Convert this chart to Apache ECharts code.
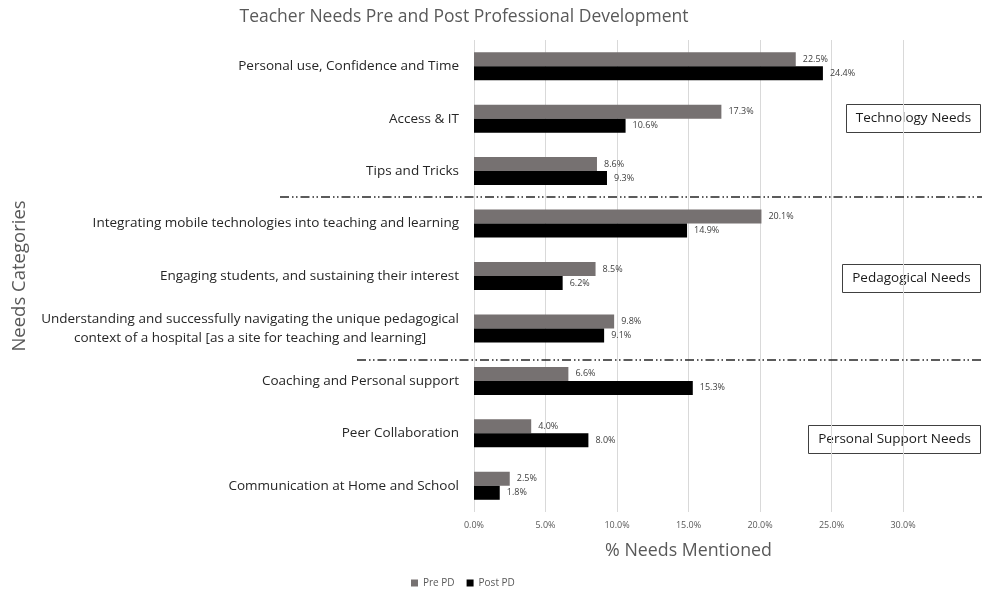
<!DOCTYPE html>
<html>
<head>
<meta charset="utf-8">
<script src="https://cdn.jsdelivr.net/npm/echarts@6/dist/echarts.min.js"></script>
<style>html,body{margin:0;padding:0;background:#fff}#c{width:982px;height:590px}</style>
</head>
<body>
<div id="c"></div>
<script>
const categories = [
  "Personal use, Confidence and Time",
  "Access & IT",
  "Tips and Tricks",
  "Integrating mobile technologies into teaching and learning",
  "Engaging students, and sustaining their interest",
  "Understanding and successfully navigating the unique pedagogical\ncontext of a hospital [as a site for teaching and learning]",
  "Coaching and Personal support",
  "Peer Collaboration",
  "Communication at Home and School"
];
const prePD = [22.5, 17.3, 8.6, 20.1, 8.5, 9.8, 6.6, 4.0, 2.5];
const postPD = [24.4, 10.6, 9.3, 14.9, 6.2, 9.1, 15.3, 8.0, 1.8];
const seriesNames = ["Pre PD", "Post PD"];
const groupNames = ["Technology Needs", "Pedagogical Needs", "Personal Support Needs"];

const FONT = "'Open Sans', sans-serif";
const chart = echarts.init(document.getElementById('c'), null, {renderer: 'canvas'});

function box(text, x, y, w, h) {
  return {
    type: 'group', left: x, top: y,
    children: [
      {type: 'rect', shape: {x: 0, y: 0, width: w, height: h},
       style: {fill: 'transparent', stroke: '#404040', lineWidth: 1}},
      {type: 'text', x: w / 2, y: h / 2,
       style: {text: text, font: "13.5px " + FONT, fill: '#1a1a1a', textAlign: 'center', textVerticalAlign: 'middle'}}
    ]
  };
}
function dashLine(x1, y) {
  return {type: 'line', shape: {x1: x1, y1: y, x2: 982, y2: y},
    style: {stroke: '#262626', lineWidth: 1.5, lineDash: [9, 3, 1.5, 2.5, 1.5, 3]}, z: 10};
}

const labelStyle = {show: true, position: 'right', distance: 7, fontSize: 9, color: '#404040', fontFamily: FONT,
  formatter: p => p.value.toFixed(1) + '%'};

chart.setOption({
  animation: false,
  textStyle: {fontFamily: FONT},
  title: {text: 'Teacher Needs Pre and Post Professional Development', left: 459, top: 3, textAlign: 'center',
    textStyle: {fontSize: 17.5, fontWeight: 'normal', color: '#595959', fontFamily: FONT}},
  legend: {data: seriesNames, top: 573, left: 406, itemWidth: 7, itemHeight: 7, itemGap: 12, icon: 'rect',
    textStyle: {fontSize: 10, color: '#595959', fontFamily: FONT}},
  grid: {left: 474, right: 79, top: 40, bottom: 78, containLabel: false},
  xAxis: {
    type: 'value', min: 0, max: 30, interval: 5,
    name: '% Needs Mentioned', nameLocation: 'middle', nameGap: 30,
    nameTextStyle: {fontSize: 17.8, color: '#595959', fontFamily: FONT},
    axisLine: {show: false}, axisTick: {show: false},
    axisLabel: {formatter: v => v.toFixed(1) + '%', fontSize: 9, color: '#595959', margin: 9, fontFamily: FONT},
    splitLine: {show: true, lineStyle: {color: '#d9d9d9', width: 1}}
  },
  yAxis: {
    type: 'category', data: categories, inverse: true,
    name: 'Needs Categories', nameLocation: 'middle', nameGap: 445, nameRotate: 90,
    nameTextStyle: {fontSize: 18.5, color: '#595959', fontFamily: FONT},
    axisLine: {show: false}, axisTick: {show: false},
    axisLabel: {margin: 15, fontSize: 13.5, color: '#262626', fontFamily: FONT,
      formatter: v => v.split('\n').map(s => '{c|' + s + '}').join('\n'),
      rich: {c: {align: 'center', fontSize: 13.5, lineHeight: 19, color: '#262626', fontFamily: FONT}}}
  },
  series: [
    {name: seriesNames[0], type: 'bar', data: prePD, barWidth: 14, barGap: '0%',
      itemStyle: {color: '#767171'}, label: labelStyle},
    {name: seriesNames[1], type: 'bar', data: postPD, barWidth: 14, barGap: '0%',
      itemStyle: {color: '#000000'}, label: labelStyle}
  ],
  graphic: [
    dashLine(280, 197),
    dashLine(357, 360),
    box(groupNames[0], 846, 104, 134, 28),
    box(groupNames[1], 842, 264, 138, 28),
    box(groupNames[2], 808, 425, 172, 28)
  ]
});
</script>
</body>
</html>
